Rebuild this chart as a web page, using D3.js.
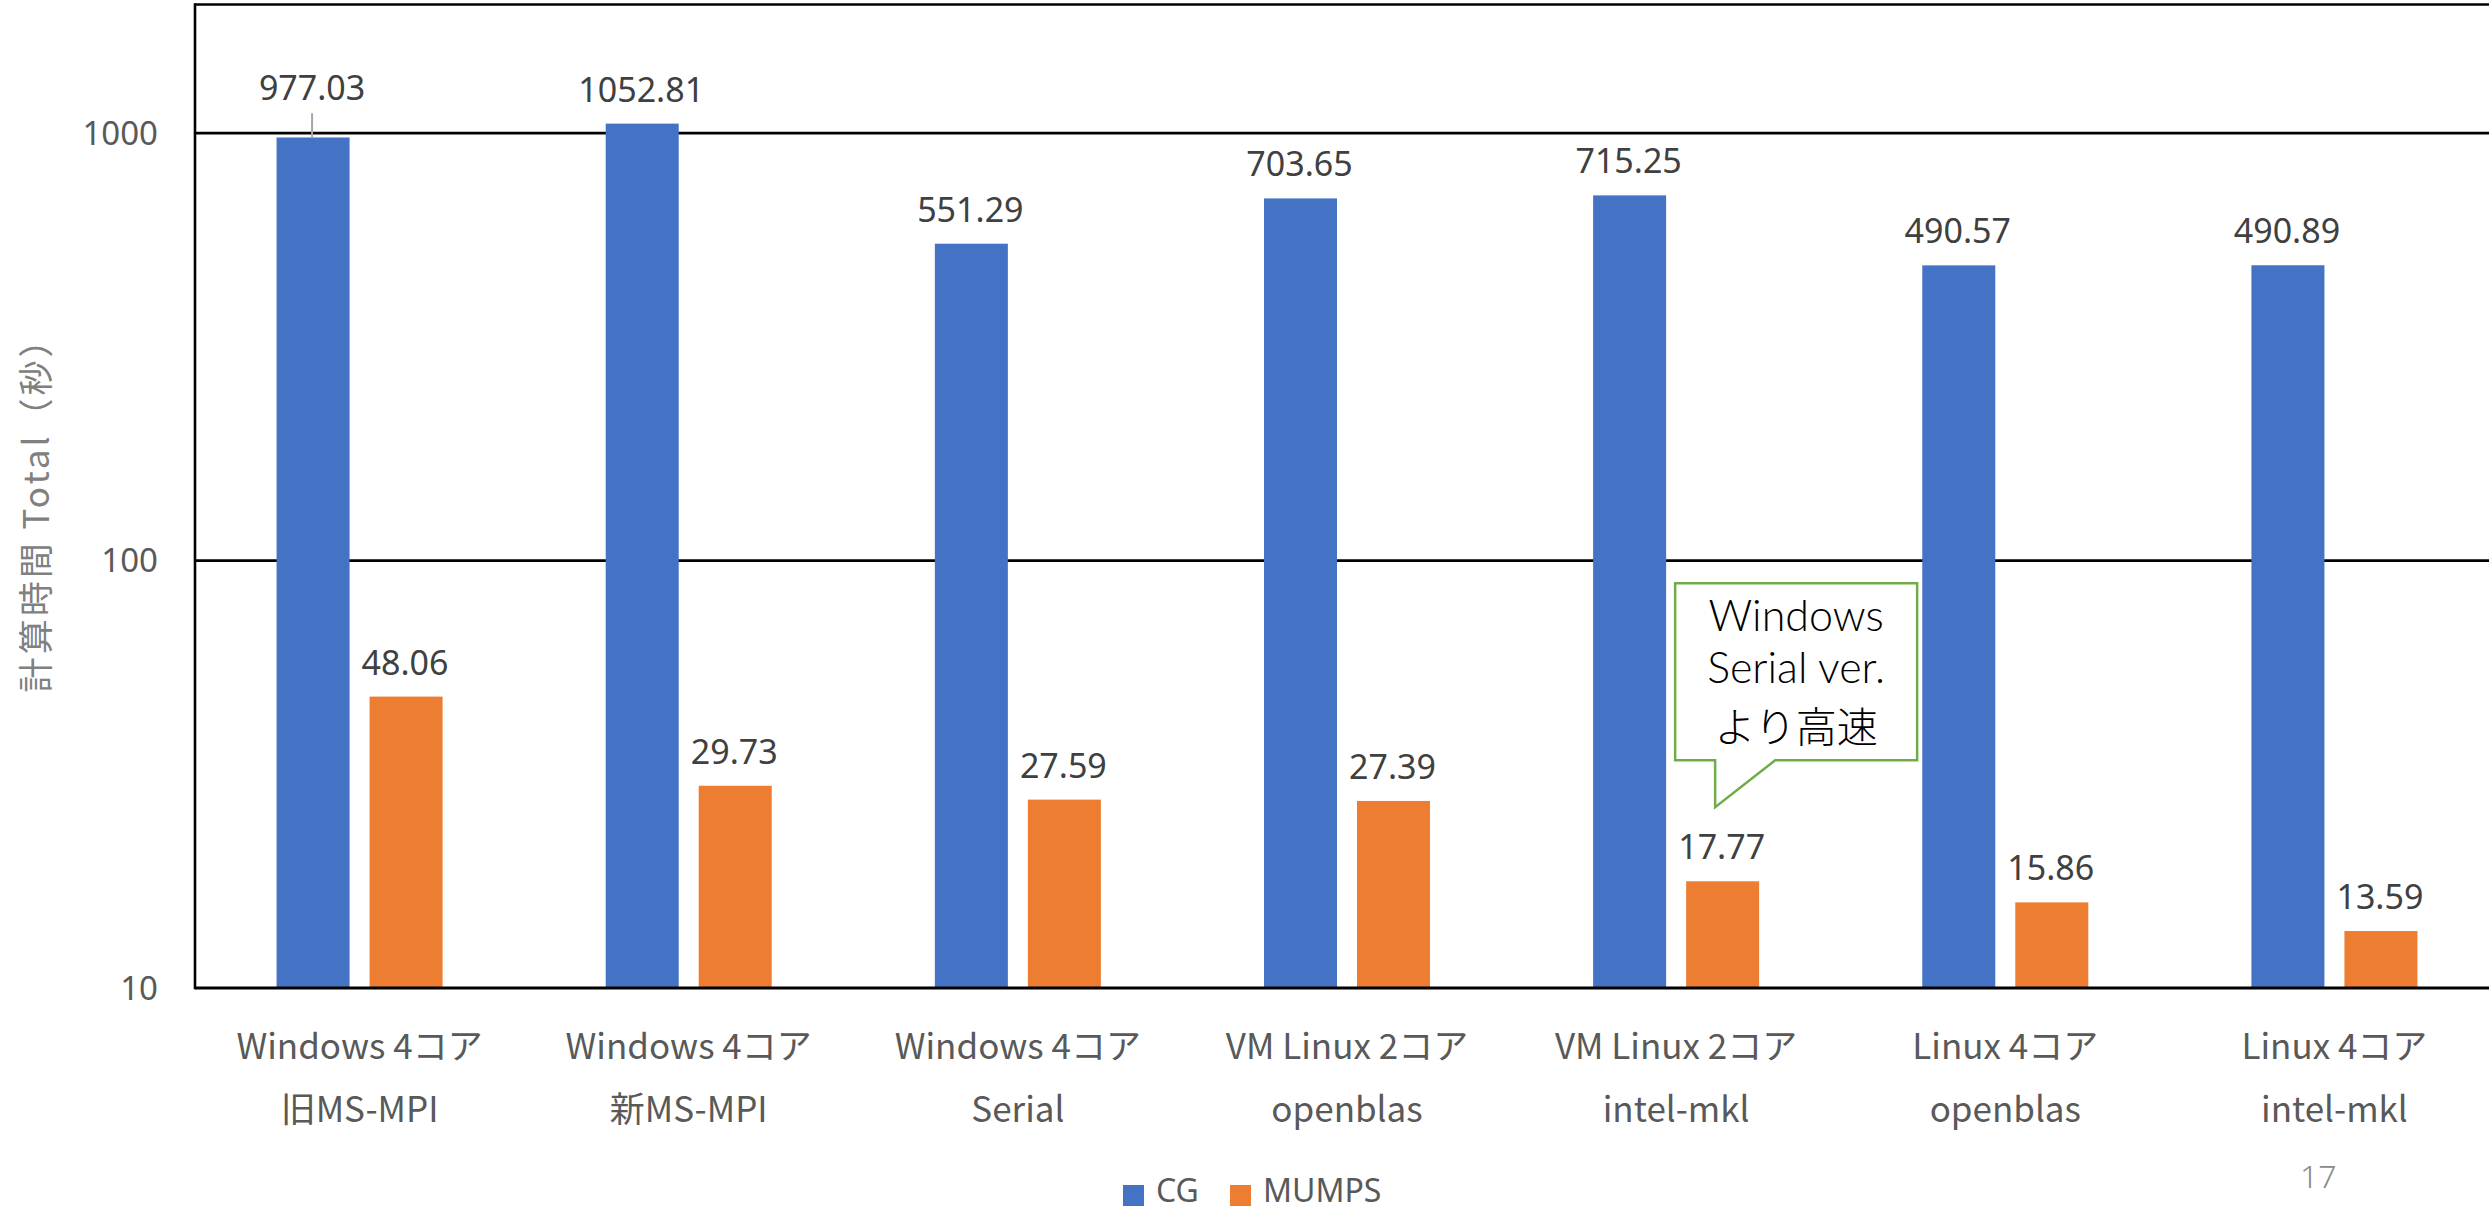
<!DOCTYPE html>
<html>
<head>
<meta charset="utf-8">
<script src="https://cdn.jsdelivr.net/npm/d3@7/dist/d3.min.js"></script>
<style>
  html, body { margin: 0; padding: 0; background: #ffffff; overflow: hidden; }
  svg { display: block; }
</style>
</head>
<body>
<svg id="chart" width="2489" height="1212"></svg>
<script>
// ---- data ----
const categoriesLine1 = ["Windows 4コア", "Windows 4コア", "Windows 4コア", "VM Linux 2コア", "VM Linux 2コア", "Linux 4コア", "Linux 4コア"];
const categoriesLine2 = ["旧MS-MPI", "新MS-MPI", "Serial", "openblas", "intel-mkl", "openblas", "intel-mkl"];
const seriesNames = ["CG", "MUMPS"];
const cgValues = [977.03, 1052.81, 551.29, 703.65, 715.25, 490.57, 490.89];
const mumpsValues = [48.06, 29.73, 27.59, 27.39, 17.77, 15.86, 13.59];
const yTicks = [10, 100, 1000];
const yTitle = "計算時間 Total（秒）";
const calloutLines = ["Windows", "Serial ver.", "より高速"];
const calloutCategoryIndex = 4;
const pageNumber = "17";

// ---- layout ----
const W = 2489, H = 1212;
const plot = { left: 195, right: 2499, top: 4.5, bottom: 988 };
const colors = { CG: "#4472C4", MUMPS: "#ED7D31" };
const latin = "'Noto Sans', 'Noto Sans CJK JP', sans-serif";
const cjk = "'Noto Sans CJK JP', 'Noto Sans', sans-serif";

const svg = d3.select("#chart");
const cats = categoriesLine1.map((d, i) => i);

const x = d3.scaleBand().domain(cats).range([plot.left, plot.right]);
const xi = d3.scaleBand().domain(seriesNames).range([0, x.bandwidth()])
  .paddingInner(0.215).paddingOuter(0.877);
const y = d3.scaleLog().domain([10, 2000]).range([plot.bottom, plot.top]);

const rows = cats.map(i => ({ i, CG: cgValues[i], MUMPS: mumpsValues[i] }));

// gridlines
svg.append("g").selectAll("line").data(yTicks.filter(t => t > 10)).join("line")
  .attr("x1", plot.left).attr("x2", W)
  .attr("y1", d => y(d)).attr("y2", d => y(d))
  .attr("stroke", "#000").attr("stroke-width", 2.6);

// bars
const groups = svg.append("g").selectAll("g").data(rows).join("g")
  .attr("transform", d => `translate(${x(d.i)},0)`);
groups.selectAll("rect").data(d => seriesNames.map(s => ({ s, v: d[s], i: d.i }))).join("rect")
  .attr("x", d => xi(d.s))
  .attr("y", d => y(d.v))
  .attr("width", xi.bandwidth())
  .attr("height", d => plot.bottom - y(d.v))
  .attr("fill", d => colors[d.s]);

// data labels
const labelData = [];
rows.forEach(r => seriesNames.forEach(s => labelData.push({ s, v: r[s], i: r.i })));
const gl = svg.append("g");
labelData.forEach(d => {
  const cx = x(d.i) + xi(d.s) + xi.bandwidth() / 2;
  const top = y(d.v);
  let base = top - 22;
  // label pushed above the 1000 gridline when it would collide, with a leader line
  const grid = y(1000);
  if (top > grid && top - grid < 12) {
    base = grid - 33;
    gl.append("line").attr("x1", cx - 1).attr("x2", cx - 1)
      .attr("y1", base + 13).attr("y2", top)
      .attr("stroke", "#a6a6a6").attr("stroke-width", 2);
  }
  gl.append("text").attr("x", cx - 1).attr("y", base)
    .attr("text-anchor", "middle")
    .attr("font-family", latin).attr("font-size", 34)
    .attr("fill", "#404040")
    .text(d3.format(".2f")(d.v));
});

// plot area border / axes
svg.append("line").attr("x1", plot.left).attr("x2", W).attr("y1", plot.top).attr("y2", plot.top)
  .attr("stroke", "#000").attr("stroke-width", 2.6);
svg.append("line").attr("x1", plot.left).attr("x2", plot.left).attr("y1", plot.top - 1.3).attr("y2", plot.bottom + 1.3)
  .attr("stroke", "#000").attr("stroke-width", 2.6);
svg.append("line").attr("x1", plot.left).attr("x2", W).attr("y1", plot.bottom).attr("y2", plot.bottom)
  .attr("stroke", "#000").attr("stroke-width", 2.8);

// y tick labels
svg.append("g").selectAll("text").data(yTicks).join("text")
  .attr("x", 158).attr("y", d => y(d))
  .attr("dy", "0.36em")
  .attr("text-anchor", "end")
  .attr("font-family", latin).attr("font-size", 33)
  .attr("fill", "#595959")
  .text(d => d);

// y title
svg.append("text")
  .attr("transform", `translate(49,${506}) rotate(-90)`)
  .attr("text-anchor", "middle")
  .attr("font-family", cjk).attr("font-size", 35)
  .attr("letter-spacing", 3)
  .attr("fill", "#808080")
  .text(yTitle);

// x labels
const xl = svg.append("g");
cats.forEach(i => {
  const cx = x(i) + x.bandwidth() / 2;
  xl.append("text").attr("x", cx).attr("y", 1059)
    .attr("text-anchor", "middle").attr("font-family", cjk).attr("font-size", 35)
    .attr("fill", "#595959").text(categoriesLine1[i]);
  xl.append("text").attr("x", cx).attr("y", 1122)
    .attr("text-anchor", "middle").attr("font-family", cjk).attr("font-size", 35)
    .attr("fill", "#595959").text(categoriesLine2[i]);
});

// callout anchored to MUMPS bar of the chosen category
{
  const barX = x(calloutCategoryIndex) + xi("MUMPS");
  const tipX = barX + 29;
  const tipY = y(mumpsValues[calloutCategoryIndex]) - 74;
  const bx0 = tipX - 40, bx1 = tipX + 202, by0 = tipY - 224, by1 = tipY - 47;
  const path = `M${bx0},${by0} L${bx1},${by0} L${bx1},${by1} L${tipX + 60},${by1} L${tipX},${tipY} L${tipX},${by1} L${bx0},${by1} Z`;
  svg.append("path").attr("d", path).attr("fill", "#fff")
    .attr("stroke", "#70AD47").attr("stroke-width", 2.5).attr("stroke-linejoin", "miter");
  const cx = (bx0 + bx1) / 2;
  const lineSpec = [
    { dy: 48, font: "Lato, 'Noto Sans', sans-serif", size: 43 },
    { dy: 100, font: "Lato, 'Noto Sans', sans-serif", size: 43 },
    { dy: 159, font: cjk, size: 41 }
  ];
  calloutLines.forEach((t, k) => {
    svg.append("text").attr("x", cx).attr("y", by0 + lineSpec[k].dy)
      .attr("text-anchor", "middle").attr("font-family", lineSpec[k].font)
      .attr("font-size", lineSpec[k].size)
      .attr("font-weight", 300).attr("fill", "#000").text(t);
  });
}

// legend
{
  const lg = svg.append("g");
  const items = [{ s: "CG", x: 1123 }, { s: "MUMPS", x: 1230 }];
  items.forEach(it => {
    lg.append("rect").attr("x", it.x).attr("y", 1185).attr("width", 21).attr("height", 21)
      .attr("fill", colors[it.s]);
    lg.append("text").attr("x", it.x + 33).attr("y", 1202)
      .attr("font-family", latin).attr("font-size", 32).attr("fill", "#595959").text(it.s);
  });
}

// page number
svg.append("text").attr("x", 2300).attr("y", 1188)
  .attr("font-family", latin).attr("font-size", 32).attr("font-weight", 300)
  .attr("fill", "#898989").text(pageNumber);
</script>
</body>
</html>
